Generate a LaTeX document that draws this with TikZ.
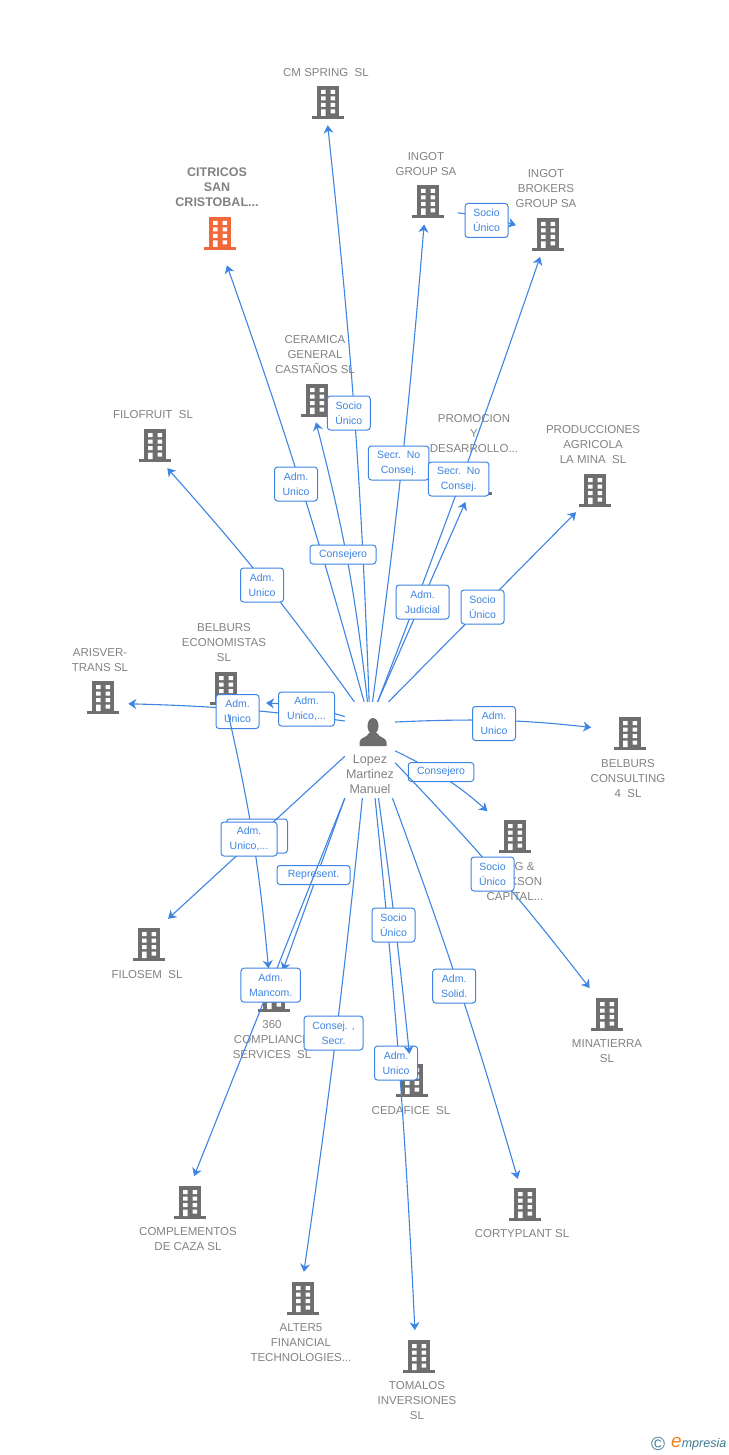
\documentclass[tikz,border=0pt]{standalone}
\usepackage{fontspec}
\setmainfont{Liberation Sans}
\usepackage{tikz}
\usetikzlibrary{arrows.meta, positioning, calc}
\definecolor{linkcolor}{RGB}{62, 132, 226}
\definecolor{textgray}{RGB}{130, 130, 130}
\definecolor{icongray}{RGB}{110, 110, 110}
\definecolor{mainorange}{RGB}{242, 104, 56}
\definecolor{logoteal}{RGB}{62, 122, 150}
\definecolor{logoorange}{RGB}{240, 130, 30}
\newcommand{\bldgicon}[1]{%
    \begin{scope}[shift={(path picture bounding box.center)}]
        \fill[#1] (-11,-16) rectangle (11,16);
        \fill[#1] (-16,14) rectangle (16,17);
        \fill[white] (-7,-12) rectangle (-2.5,-8) (2.5,-12) rectangle (7,-8);
        \fill[white] (-7,-5.5) rectangle (-2.5,-1.5) (2.5,-5.5) rectangle (7,-1.5);
        \fill[white] (-7,1) rectangle (-2.5,5) (2.5,1) rectangle (7,5);
        \fill[white] (-7,7.5) rectangle (-2.5,14) (2.5,7.5) rectangle (7,11.5);
    \end{scope}}

\begin{document}
\begin{tikzpicture}[
    x=1pt, y=-1pt,
    building/.style={circle, minimum size=52pt, inner sep=0pt, path picture={\bldgicon{icongray}}},
    mainbuilding/.style={circle, minimum size=52pt, inner sep=0pt, path picture={\bldgicon{mainorange}}},
    coname/.style={font=\fontsize{11.5}{15}\selectfont, text=textgray, align=center, inner sep=0pt, yshift=-0.8pt},
    mainname/.style={font=\fontsize{12.5}{15}\selectfont\bfseries, text=textgray, align=center, inner sep=0pt},
    arrow/.style={-{Stealth[length=8pt, width=10pt, inset=2.5pt]}, draw=linkcolor, line width=1.1pt},
    tag/.style={draw=linkcolor, fill=white, text=linkcolor, rounded corners=3pt, line width=1pt, minimum width=43pt, minimum height=34pt, inner sep=0pt, align=center, font=\fontsize{10.5}{15}\selectfont},
    tagone/.style={tag, minimum height=19pt}
]
    \useasboundingbox (0,0) rectangle (728,1455);

    % Companies
    \node[building] (cmspring) at (328,102) {};
    \node[mainbuilding] (citricos) at (220,233) {};
    \node[building] (ingotgroup) at (428,201) {};
    \node[building] (ingotbrokers) at (548,234) {};
    \node[building] (ceramica) at (317,400) {};
    \node[building] (filofruit) at (155,445) {};
    \node[building] (promocion) at (476,478) {};
    \node[building] (producciones) at (595,490) {};
    \node[building] (belburseco) at (226,688) {};
    \node[building] (arisver) at (103,697) {};
    \node[building] (belbursconsulting) at (630,733) {};
    \node[building] (kingjackson) at (515,836) {};
    \node[building] (filosem) at (149,944) {};
    \node[building] (compliance) at (274,995) {};
    \node[building] (minatierra) at (607,1014) {};
    \node[building] (cedafice) at (412,1080) {};
    \node[building] (complementos) at (190,1202) {};
    \node[building] (cortyplant) at (525,1204) {};
    \node[building] (alterfive) at (303,1298) {};
    \node[building] (tomalos) at (419,1356) {};
    \coordinate (belbursecotip) at (266,703);

    % Company names
    \node[coname] (cmspringname) at (326,72) {CM SPRING~~SL};
    \node[mainname] (citricosname) at (217,187) {CITRICOS\\SAN\\CRISTOBAL...};
    \node[coname] (ingotgroupname) at (426,163.5) {INGOT\\GROUP SA};
    \node[coname] (ingotbrokersname) at (546,188) {INGOT\\BROKERS\\GROUP SA};
    \node[coname] (ceramicaname) at (315,354) {CERAMICA\\GENERAL\\CASTAÑOS SL};
    \node[coname] (filofruitname) at (153,414) {FILOFRUIT~~SL};
    \node[coname] (promocionname) at (474,433) {PROMOCION\\Y\\DESARROLLO...};
    \node[coname] (produccionesname) at (593,444) {PRODUCCIONES\\AGRICOLA\\LA MINA~~SL};
    \node[coname] (belburseconame) at (224,642) {BELBURS\\ECONOMISTAS\\SL};
    \node[coname] (arisvername) at (100,659.5) {ARISVER-\\TRANS SL};
    \node[coname] (belbursconsultingname) at (628,778) {BELBURS\\CONSULTING\\4~~SL};
    \node[coname] (kingjacksonname) at (515,881) {KING \&\\JACKSON\\CAPITAL...};
    \node[coname] (filosemname) at (147,974) {FILOSEM~~SL};
    \node[coname] (compliancename) at (272,1039) {360\\COMPLIANCE\\SERVICES~~SL};
    \node[coname] (minatierraname) at (607,1050.5) {MINATIERRA\\SL};
    \node[coname] (cedaficename) at (411,1110) {CEDAFICE~~SL};
    \node[coname] (complementosname) at (188,1238.5) {COMPLEMENTOS\\DE CAZA SL};
    \node[coname] (cortyplantname) at (522,1233) {CORTYPLANT SL};
    \node[coname] (alterfivename) at (301,1342) {ALTER5\\FINANCIAL\\TECHNOLOGIES...};
    \node[coname] (tomalosname) at (417,1400) {TOMALOS\\INVERSIONES\\SL};

    % Person
    \node[minimum width=50pt, minimum height=96pt, inner sep=0pt] (lopez) at (370,750) {};
    \fill[icongray] (373,726) ellipse (5.5pt and 8pt);
    \fill[icongray] (359.5,746) -- (359.5,742) .. controls (360,737) and (367,738) .. (369,733) -- (377,733) .. controls (379,738) and (386,737) .. (386.5,742) -- (386.5,746) -- cycle;
    \node[coname, font=\fontsize{12.5}{15}\selectfont] (lopezname) at (370,773.2) {Lopez\\Martinez\\Manuel};

    % Relationships
    \draw[arrow, shorten >=-3pt] (lopez.91) to[bend right=2] (cmspring.-90) node[tag] at (348.8,413) {Socio\\Único};
    \draw[arrow, shorten >=7pt] (lopez.97) to[bend right=2] (citricos.-80) node[tag] at (296,484) {Adm.\\Unico};
    \draw[arrow, shorten >=-4pt] (lopez.93.5) to[bend right=4] (ceramica.-90) node[tagone, minimum width=66pt] at (343,554.5) {Consejero};
    \draw[arrow, shorten >=-2.5pt] (lopez.87.6) to[bend right=1.5] (ingotgroup.-99) node[tag, minimum width=60.5pt] at (398.7,463) {Secr.~~No\\Consej.};
    \draw[arrow, shorten >=-2pt] (lopez.81.7) to[bend right=1] (ingotbrokers) node[tag, minimum width=60.5pt] at (458.7,479) {Secr.~~No\\Consej.};
    \draw[arrow] (lopez.81) -- (promocion) node[tag, minimum width=53pt] at (422.5,602) {Adm.\\Judicial};
    \draw[arrow, shorten >=3pt] (lopez.69) -- (producciones.230) node[tag] at (482.5,607) {Socio\\Único};
    \draw[arrow] (lopez.108.4) to[bend right=3] (filofruit.-62) node[tag] at (262,585) {Adm.\\Unico};
    \draw[arrow] (lopez.131) to[bend right=3] (arisver.-15) node[tag] at (237.5,711.5) {Adm.\\Unico};
    \draw[arrow] (lopez.127) to[bend right=7] (belbursecotip) node[tag, minimum width=56pt] at (306.5,709) {Adm.\\Unico,...};
    \draw[arrow, shorten >=13pt] (lopez.48) to[bend left=4.5] (belbursconsulting.171) node[tag] at (494,723.5) {Adm.\\Unico};
    \draw[arrow, shorten >=11pt] (lopez.-2) to[bend left=8] (kingjackson.138) node[tagone, minimum width=65.5pt] at (441,772) {Consejero};
    \draw[arrow, shorten >=5pt] (lopez.-27) to[bend left=3] (minatierra.123) node[tag] at (492.5,874) {Socio\\Único};
    \draw[arrow, shorten >=1pt] (belburseco.-85) to[bend left=3.8] (compliance.102) node[tag, minimum width=61pt] at (257,836) {Adm.\\Unico,...};
    \draw[arrow, shorten >=5.5pt] (lopez.194) -- (filosem.55) node[tag, minimum width=56pt] at (249,839) {Adm.\\Unico,...};
    \draw[arrow] (lopez.south west) -- (compliance) node[tagone, minimum width=73pt] at (313.5,875) {Represent.};
    \draw[arrow] (lopez.south west) -- (complementos.81) node[tag, minimum width=59.5pt] at (270.7,985.2) {Adm.\\Mancom.};
    \draw[arrow] (lopez.-99.5) to[bend left=1.2] (alterfive.88) node[tag, minimum width=59pt] at (333.5,1033) {Consej. ,\\Secr.};
    \draw[arrow] (lopez.-84) to[bend left=1.5] (tomalos.99) node[tag] at (396,1063) {Adm.\\Unico};
    \draw[arrow] (lopez.-80.5) to[bend left=1] (cedafice) node[tag] at (393.5,925) {Socio\\Único};
    \draw[arrow] (lopez.-65.5) to[bend left=2] (cortyplant) node[tag] at (454.2,986) {Adm.\\Solid.};
    \draw[arrow, shorten <=6pt, shorten >=7pt] (ingotgroup.-25) to[bend left=5] (ingotbrokers.165) node[tag] at (486.5,220.5) {Socio\\Único};

    % Logo
    \node[font=\fontsize{19}{19}\selectfont, text=logoteal, inner sep=0pt] (copyrightmark) at (658,1444) {©};
    \node[anchor=west, inner sep=0pt, text=logoteal, font=\fontsize{12.5}{13}\selectfont\itshape] (logotext) at (671,1444) {{\color{logoorange}\fontsize{19}{19}\selectfont e}mpresia};
\end{tikzpicture}
\end{document}
